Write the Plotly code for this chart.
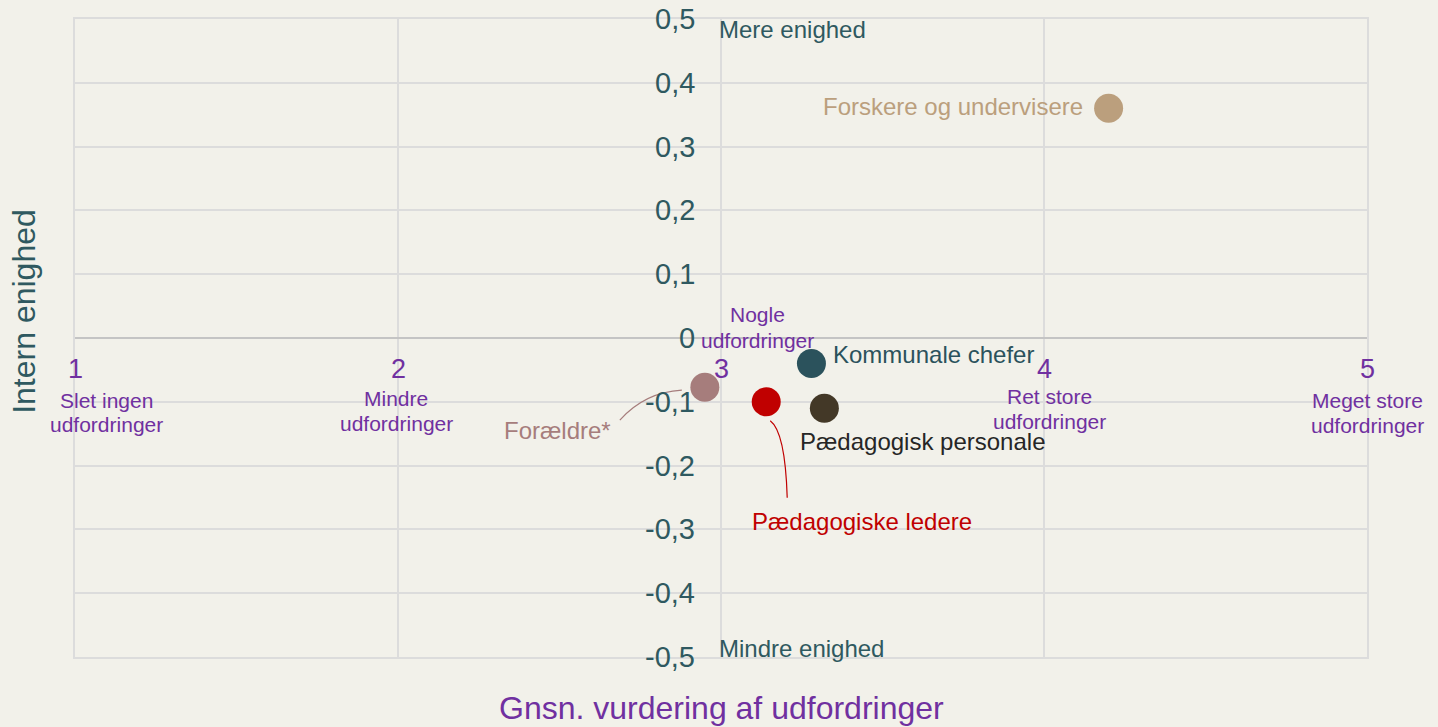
import plotly.graph_objects as go

# ---- data ----
groups = ["Forskere og undervisere", "Kommunale chefer", "Pædagogisk personale",
          "Pædagogiske ledere", "Forældre*"]
challenge = [4.20, 3.28, 3.32, 3.14, 2.95]
agreement = [0.36, -0.04, -0.11, -0.10, -0.077]

x_ticks = [1, 2, 3, 4, 5]
x_tick_labels = [["Slet ingen", "udfordringer"], ["Mindre", "udfordringer"], ["Nogle", "udfordringer"],
                 ["Ret store", "udfordringer"], ["Meget store", "udfordringer"]]
y_ticks = [0.5, 0.4, 0.3, 0.2, 0.1, 0, -0.1, -0.2, -0.3, -0.4, -0.5]

# ---- styles ----
colors = ["#bb9f7d", "#2b525c", "#433827", "#c00000", "#a67d7c"]
label_colors = ["#bb9f7d", "#2b525c", "#262626", "#c00000", "#a67d7c"]
# (xanchor, xshift, yshift) per label
label_pos = [("right", -24, 2), ("left", 20, 9), ("left", -26, -33),
             ("left", -16, -120), ("right", -92, -43)]
# (xshift, first-line yshift, second-line yshift) per x tick label
tick_lab_pos = [(31, -62, -86), (-2, -60, -85), (36, 24, -2), (5, -58, -83), (0, -62, -87)]

BG = "#f2f1ea"
TEAL = "#2f5960"
PURPLE = "#7030a0"
GRID = "#dcdcdc"
FONT = "Liberation Sans, Arial, sans-serif"

fig = go.Figure()
fig.add_trace(go.Scatter(
    x=challenge, y=agreement, mode="markers",
    marker=dict(size=29, color=colors, line=dict(width=0)),
    hoverinfo="text", text=groups, showlegend=False,
))

annotations = []
for g, xv, yv, c, (xa, xs, ys) in zip(groups, challenge, agreement, label_colors, label_pos):
    annotations.append(dict(x=xv, y=yv, text=g, showarrow=False, xanchor=xa, yanchor="middle",
                            xshift=xs, yshift=ys, font=dict(size=24, color=c, family=FONT)))

# y tick labels along x = 3
for v in y_ticks:
    txt = ("%.1f" % v).replace(".", ",")
    if txt in ("0,0", "-0,0"):
        txt = "0"
    annotations.append(dict(x=3, y=v, text=txt, showarrow=False, xanchor="right", yanchor="middle",
                            xshift=-24, font=dict(size=29, color=TEAL, family=FONT)))

# x tick labels along y = 0
for v, lines, (xs, y1, y2) in zip(x_ticks, x_tick_labels, tick_lab_pos):
    annotations.append(dict(x=v, y=0, text=str(v), showarrow=False, xanchor="center", yanchor="middle",
                            yshift=-31, font=dict(size=27, color=PURPLE, family=FONT)))
    for line, ys in zip(lines, (y1, y2)):
        annotations.append(dict(x=v, y=0, text=line, showarrow=False, xanchor="center",
                                yanchor="middle", xshift=xs, yshift=ys,
                                font=dict(size=21, color=PURPLE, family=FONT)))

annotations.append(dict(x=3, y=0.5, text="Mere enighed", showarrow=False, xanchor="left",
                        yanchor="middle", yshift=-10, xshift=-4,
                        font=dict(size=24, color=TEAL, family=FONT)))
annotations.append(dict(x=3, y=-0.5, text="Mindre enighed", showarrow=False, xanchor="left",
                        yanchor="middle", yshift=9, xshift=-4,
                        font=dict(size=24, color=TEAL, family=FONT)))

annotations.append(dict(x=-0.039, y=0.542, xref="paper", yref="paper", text="Intern enighed",
                        showarrow=False, textangle=-90, xanchor="center", yanchor="middle",
                        font=dict(size=32, color=TEAL, family=FONT)))
annotations.append(dict(x=0.5, y=-0.08, xref="paper", yref="paper",
                        text="Gnsn. vurdering af udfordringer", showarrow=False,
                        xanchor="center", yanchor="middle",
                        font=dict(size=32, color=PURPLE, family=FONT)))

# leader lines (pixel offsets from the data points)
dxp = 1 / 323.0
dyp = 0.1 / 63.8
def path(x0, y0, pts):
    (a, b), (c, d), (e, f) = pts
    return "M %f,%f Q %f,%f %f,%f" % (x0 + a * dxp, y0 - b * dyp, x0 + c * dxp, y0 - d * dyp,
                                      x0 + e * dxp, y0 - f * dyp)

shapes = [
    dict(type="line", x0=3, x1=3, y0=-0.5, y1=0.5, xref="x", yref="y",
         line=dict(color="#c4c4c4", width=1.5), layer="below"),
    dict(type="path", xref="x", yref="y",
         path=path(challenge[3], agreement[3], [(4, 19), (19, 30), (21, 96)]),
         line=dict(color=colors[3], width=1.2)),
    dict(type="path", xref="x", yref="y",
         path=path(challenge[4], agreement[4], [(-23, 3), (-60, 5), (-85, 33)]),
         line=dict(color=colors[4], width=1.2)),
]

fig.update_layout(
    width=1438, height=727,
    paper_bgcolor=BG, plot_bgcolor=BG,
    margin=dict(l=75, r=71, t=19, b=70),
    xaxis=dict(range=[1, 5], tick0=1, dtick=1, showticklabels=False, showgrid=True,
               gridcolor=GRID, gridwidth=1.5, zeroline=False, showline=True, mirror=True,
               linecolor=GRID, linewidth=1.5, ticks=""),
    yaxis=dict(range=[-0.5, 0.5], tick0=0, dtick=0.1, showticklabels=False, showgrid=True,
               gridcolor=GRID, gridwidth=1.5, zeroline=True, zerolinecolor="#c4c4c4",
               zerolinewidth=1.5, showline=True, mirror=True, linecolor=GRID, linewidth=1.5,
               ticks=""),
    annotations=annotations,
    shapes=shapes,
    font=dict(family=FONT),
)

fig.write_html(
    "out.html",
    config={"displayModeBar": False},
    post_script="document.body.style.margin='0';document.body.style.overflow='hidden';"
                "document.body.style.background='%s';" % BG,
)
